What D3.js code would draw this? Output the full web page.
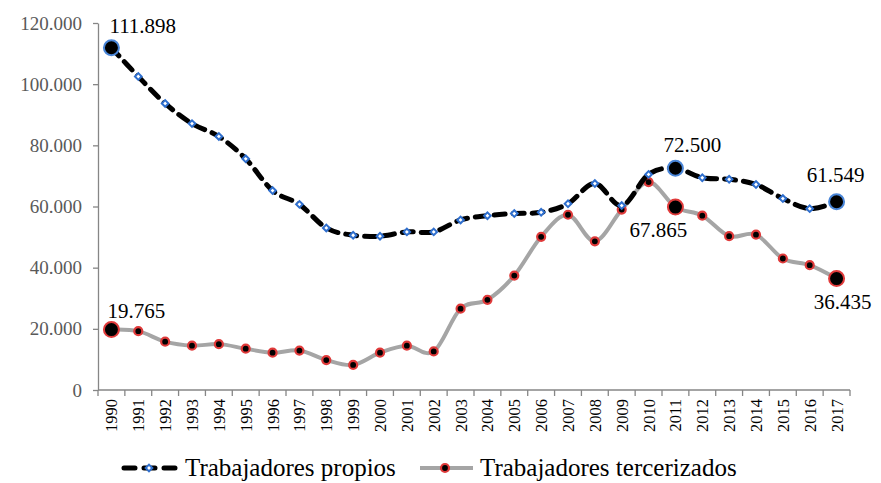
<!DOCTYPE html>
<html>
<head>
<meta charset="utf-8">
<script src="https://cdn.jsdelivr.net/npm/d3@7"></script>
<style>
  body { margin: 0; background: #fff; }
  svg, svg text { font-family: "Times New Roman", "Liberation Serif", Times, "DejaVu Serif", serif !important; }
</style>
</head>
<body>
<div id="root"></div>
<script>
const years = d3.range(1990, 2018).map(String);

const propios = [111898, 102500, 93700, 87100, 82900, 75600, 65200, 60700, 53000, 50600,
  50300, 51700, 51700, 55600, 57000, 57700, 58100, 60900, 67500, 60300,
  70500, 72500, 69400, 68900, 67200, 62600, 59300, 61549];

const tercerizados = [19765, 19250, 15800, 14500, 15000, 13500, 12200, 12900, 9800, 8200,
  12200, 14500, 12600, 26600, 29500, 37400, 50100, 57300, 48600, 59000,
  67980, 59800, 57000, 50300, 50800, 43000, 40800, 36435];

const yTicks = [0, 20000, 40000, 60000, 80000, 100000, 120000];

// highlighted points: series, year index, label text, label offset
const highlights = [
  { s: "p", i: 0, text: "111.898", dx: -2, dy: -15, anchor: "start" },
  { s: "p", i: 21, text: "72.500", dx: 17, dy: -16, anchor: "middle" },
  { s: "p", i: 27, text: "61.549", dx: -1, dy: -20, anchor: "middle" },
  { s: "t", i: 0, text: "19.765", dx: -4, dy: -12, anchor: "start" },
  { s: "t", i: 21, text: "67.865", dx: -17, dy: 30, anchor: "middle" },
  { s: "t", i: 27, text: "36.435", dx: 6, dy: 30, anchor: "middle" }
];

const width = 881;
const height = 483;
const margin = { left: 98, right: 31, top: 23, bottom: 93 };

const svg = d3.select("#root").append("svg")
  .attr("width", width)
  .attr("height", height);

const x = d3.scaleBand()
  .domain(years)
  .range([margin.left, width - margin.right]);

const y = d3.scaleLinear()
  .domain([0, 120000])
  .range([height - margin.bottom, margin.top]);

const fmt = d => d3.format(",")(d).replace(/,/g, ".");
const cx = (d, i) => x(years[i]) + x.bandwidth() / 2;

// y axis
const yAxis = d3.axisLeft(y)
  .tickValues(yTicks)
  .tickSize(5)
  .tickSizeOuter(0)
  .tickPadding(11)
  .tickFormat(fmt);

const gy = svg.append("g")
  .attr("transform", `translate(${margin.left},0)`)
  .call(yAxis)
  .attr("font-family", null)
  .attr("font-size", null);
gy.select(".domain").attr("stroke", "#868686").attr("stroke-width", 1.3);
gy.selectAll(".tick line").attr("stroke", "#868686").attr("stroke-width", 1.3);
gy.selectAll(".tick text")
  .attr("fill", "#595959")
  .style("font-size", "19px");

// x axis: ticks between categories
const gx = svg.append("g")
  .attr("transform", `translate(0,${y(0)})`);
gx.append("line")
  .attr("x1", x.range()[0]).attr("x2", x.range()[1])
  .attr("stroke", "#868686").attr("stroke-width", 1.3);
gx.selectAll("line.tk")
  .data(d3.range(years.length + 1))
  .enter().append("line")
  .attr("class", "tk")
  .attr("x1", i => margin.left + i * x.step())
  .attr("x2", i => margin.left + i * x.step())
  .attr("y1", 0).attr("y2", 6)
  .attr("stroke", "#868686").attr("stroke-width", 1.3);
gx.selectAll("text")
  .data(years)
  .enter().append("text")
  .attr("transform", d => `translate(${x(d) + x.bandwidth() / 2 + 6},9) rotate(-90)`)
  .attr("text-anchor", "end")
  .style("font-size", "16.5px")
  .attr("fill", "#000")
  .text(d => d);

const line = d3.line()
  .x(cx)
  .y(d => y(d))
  .curve(d3.curveCardinal.tension(0));

// tercerizados
svg.append("path")
  .datum(tercerizados)
  .attr("d", line)
  .attr("fill", "none")
  .attr("stroke", "#a5a5a5")
  .attr("stroke-width", 4);

svg.append("g").selectAll("circle")
  .data(tercerizados)
  .enter().append("circle")
  .attr("cx", cx)
  .attr("cy", d => y(d))
  .attr("r", 4)
  .attr("fill", "#000")
  .attr("stroke", "#e03a3a")
  .attr("stroke-width", 2.2);

// propios
svg.append("path")
  .datum(propios)
  .attr("d", line)
  .attr("fill", "none")
  .attr("stroke", "#000")
  .attr("stroke-width", 5)
  .attr("stroke-dasharray", "11,8")
  .attr("stroke-linecap", "round");

const diamond = d3.symbol().type(d3.symbolSquare).size(22);

svg.append("g").selectAll("path")
  .data(propios)
  .enter().append("path")
  .attr("d", diamond)
  .attr("transform", (d, i) => `translate(${cx(d, i)},${y(d)}) rotate(45)`)
  .attr("fill", "#fff")
  .attr("stroke", "#2f6fce")
  .attr("stroke-width", 2);

// highlights
const hl = svg.append("g");
highlights.forEach(h => {
  const v = h.s === "p" ? propios[h.i] : tercerizados[h.i];
  const px = cx(v, h.i);
  const py = y(v);
  hl.append("circle")
    .attr("cx", px).attr("cy", py).attr("r", 7.5)
    .attr("fill", "#000")
    .attr("stroke", h.s === "p" ? "#4a86d8" : "#e03a3a")
    .attr("stroke-width", 2);
  hl.append("text")
    .attr("x", px + h.dx)
    .attr("y", py + h.dy)
    .attr("text-anchor", h.anchor)
    .style("font-size", "21px")
    .attr("fill", "#000")
    .text(h.text);
});

// legend
const lg = svg.append("g").attr("transform", "translate(0,468)");
lg.append("line")
  .attr("x1", 124).attr("x2", 176)
  .attr("stroke", "#000").attr("stroke-width", 5)
  .attr("stroke-dasharray", "11,9").attr("stroke-linecap", "round");
lg.append("path")
  .attr("d", diamond)
  .attr("transform", "translate(149,0) rotate(45)")
  .attr("fill", "#fff").attr("stroke", "#2f6fce").attr("stroke-width", 2);
lg.append("text")
  .attr("x", 185).attr("y", 8)
  .style("font-size", "25px")
  .text("Trabajadores propios");

lg.append("line")
  .attr("x1", 420).attr("x2", 473)
  .attr("stroke", "#a5a5a5").attr("stroke-width", 4);
lg.append("circle")
  .attr("cx", 445).attr("cy", 0).attr("r", 4)
  .attr("fill", "#000").attr("stroke", "#e03a3a").attr("stroke-width", 2.2);
lg.append("text")
  .attr("x", 480).attr("y", 8)
  .style("font-size", "25px")
  .text("Trabajadores tercerizados");
</script>
</body>
</html>
